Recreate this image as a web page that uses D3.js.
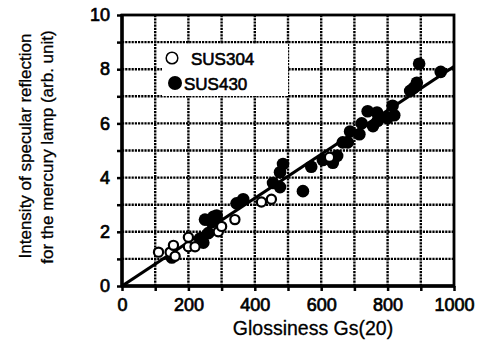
<!DOCTYPE html>
<html>
<head>
<meta charset="utf-8">
<script src="https://cdn.jsdelivr.net/npm/d3@7"></script>
<style>
  body { margin: 0; background: #fff; }
  text { font-family: "Liberation Sans", Arial, sans-serif; fill: #000; }
</style>
</head>
<body>
<svg id="chart" width="483" height="342"></svg>
<script>
'use strict'

// glossiness Gs(20), intensity (arb. unit)
let sus304 = [
  [110, 1.25], [145, 1.25], [155, 1.5], [160, 1.1], [200, 1.8], [200, 1.45],
  [220, 1.45], [290, 2.0], [300, 2.2], [340, 2.45], [420, 3.1], [450, 3.2],
  [625, 4.75]
]
let sus430 = [
  [150, 1.05], [235, 1.75], [245, 1.6], [260, 1.95], [250, 2.45], [275, 2.55],
  [285, 2.6], [270, 2.35], [345, 3.05], [365, 3.2], [455, 3.8], [476, 3.65],
  [476, 4.2], [485, 4.5], [545, 3.5], [570, 4.4], [605, 4.65], [635, 4.55],
  [648, 4.8], [665, 5.3], [680, 5.3], [687, 5.7], [715, 5.6], [722, 6.0],
  [740, 6.45], [756, 5.9], [768, 6.4], [770, 6.1], [800, 6.2], [815, 6.65],
  [820, 6.3], [868, 7.2], [878, 7.3], [888, 7.5], [895, 8.2], [960, 7.9]
]
let fitLine = [[0, 0], [1000, 8.1]]
let xTicks = [0, 200, 400, 600, 800, 1000]
let yTicks = [0, 2, 4, 6, 8, 10]
let xGrid = d3.range(100, 1000, 100)
let yGrid = d3.range(1, 10, 1)

let svg = d3.select('#chart')
let xScale = d3.scaleLinear().domain([0, 1000]).range([122, 454])
let yScale = d3.scaleLinear().domain([0, 10]).range([286, 15])

// grid
let grid = svg.append('g')
  .attr('stroke', '#000').attr('stroke-width', 2.4).attr('stroke-dasharray', '2.2,1')
grid.selectAll('.vg').data(xGrid).enter().append('line')
  .attr('x1', d => xScale(d)).attr('x2', d => xScale(d))
  .attr('y1', yScale(0)).attr('y2', yScale(10))
grid.selectAll('.hg').data(yGrid).enter().append('line')
  .attr('y1', d => yScale(d)).attr('y2', d => yScale(d))
  .attr('x1', xScale(0)).attr('x2', xScale(1000))

// legend background hides grid
svg.append('rect').attr('x', 162).attr('y', 44).attr('width', 126).attr('height', 52).attr('fill', '#fff')

// frame
svg.append('rect')
  .attr('x', xScale(0)).attr('y', yScale(10))
  .attr('width', xScale(1000) - xScale(0)).attr('height', yScale(0) - yScale(10))
  .attr('fill', 'none').attr('stroke', '#000').attr('stroke-width', 2.8)
svg.append('line').attr('x1', xScale(0)).attr('x2', xScale(0)).attr('y1', yScale(10) - 1).attr('y2', yScale(0) + 1)
  .attr('stroke', '#000').attr('stroke-width', 3.4)
svg.append('line').attr('x1', xScale(0) - 1).attr('x2', xScale(1000) + 1).attr('y1', yScale(0)).attr('y2', yScale(0))
  .attr('stroke', '#000').attr('stroke-width', 3.4)

// axes
let xAxis = svg.append('g').attr('transform', 'translate(0,' + yScale(0) + ')')
  .call(d3.axisBottom(xScale).tickValues(d3.range(0, 1001, 100)).tickSize(5).tickFormat(d => xTicks.includes(d) ? d : ''))
let yAxis = svg.append('g').attr('transform', 'translate(' + xScale(0) + ',0)')
  .call(d3.axisLeft(yScale).tickValues(d3.range(0, 11, 1)).tickSize(5).tickFormat(d => yTicks.includes(d) ? d : ''))
;[xAxis, yAxis].forEach(function(a){
  a.select('.domain').remove()
  a.selectAll('line').attr('stroke', '#000').attr('stroke-width', 2.5)
  a.selectAll('text').style('font-size', '18px').attr('fill', '#000')
    .attr('stroke', '#000').attr('stroke-width', 0.7)
})
xAxis.selectAll('text').attr('dy', '0.95em')
yAxis.selectAll('text').attr('x', -12)

// fit line
svg.append('path')
  .attr('d', d3.line().x(d => xScale(d[0])).y(d => yScale(d[1]))(fitLine))
  .attr('stroke', '#000').attr('stroke-width', 3.2).attr('fill', 'none')

// points
svg.selectAll('.p430').data(sus430).enter().append('circle')
  .attr('cx', d => xScale(d[0])).attr('cy', d => yScale(d[1])).attr('r', 6.3)
  .attr('fill', '#000')
svg.selectAll('.p304').data(sus304).enter().append('circle')
  .attr('cx', d => xScale(d[0])).attr('cy', d => yScale(d[1])).attr('r', 4.6)
  .attr('fill', '#fff').attr('stroke', '#000').attr('stroke-width', 2.2)

// legend
svg.append('circle').attr('cx', 172).attr('cy', 58).attr('r', 5.8)
  .attr('fill', '#fff').attr('stroke', '#000').attr('stroke-width', 1.5)
svg.append('text').attr('x', 191).attr('y', 65).text('SUS304')
  .style('font-size', '17px').attr('stroke', '#000').attr('stroke-width', 0.6)
svg.append('circle').attr('cx', 175).attr('cy', 83).attr('r', 7).attr('fill', '#000')
svg.append('text').attr('x', 184).attr('y', 90).text('SUS430')
  .style('font-size', '17px').attr('stroke', '#000').attr('stroke-width', 0.6)

// axis titles
svg.append('text').attr('x', 313).attr('y', 335).attr('text-anchor', 'middle')
  .style('font-size', '19.5px').attr('stroke', '#000').attr('stroke-width', 0.3)
  .text('Glossiness Gs(20)')
svg.append('text').attr('transform', 'translate(31,146) rotate(-90)').attr('text-anchor', 'middle')
  .style('font-size', '17px').attr('stroke', '#000').attr('stroke-width', 0.3)
  .text('Intensity of specular reflection')
svg.append('text').attr('transform', 'translate(53,147) rotate(-90)').attr('text-anchor', 'middle')
  .style('font-size', '17px').attr('stroke', '#000').attr('stroke-width', 0.3)
  .text('for the mercury lamp (arb. unit)')
</script>
</body>
</html>
